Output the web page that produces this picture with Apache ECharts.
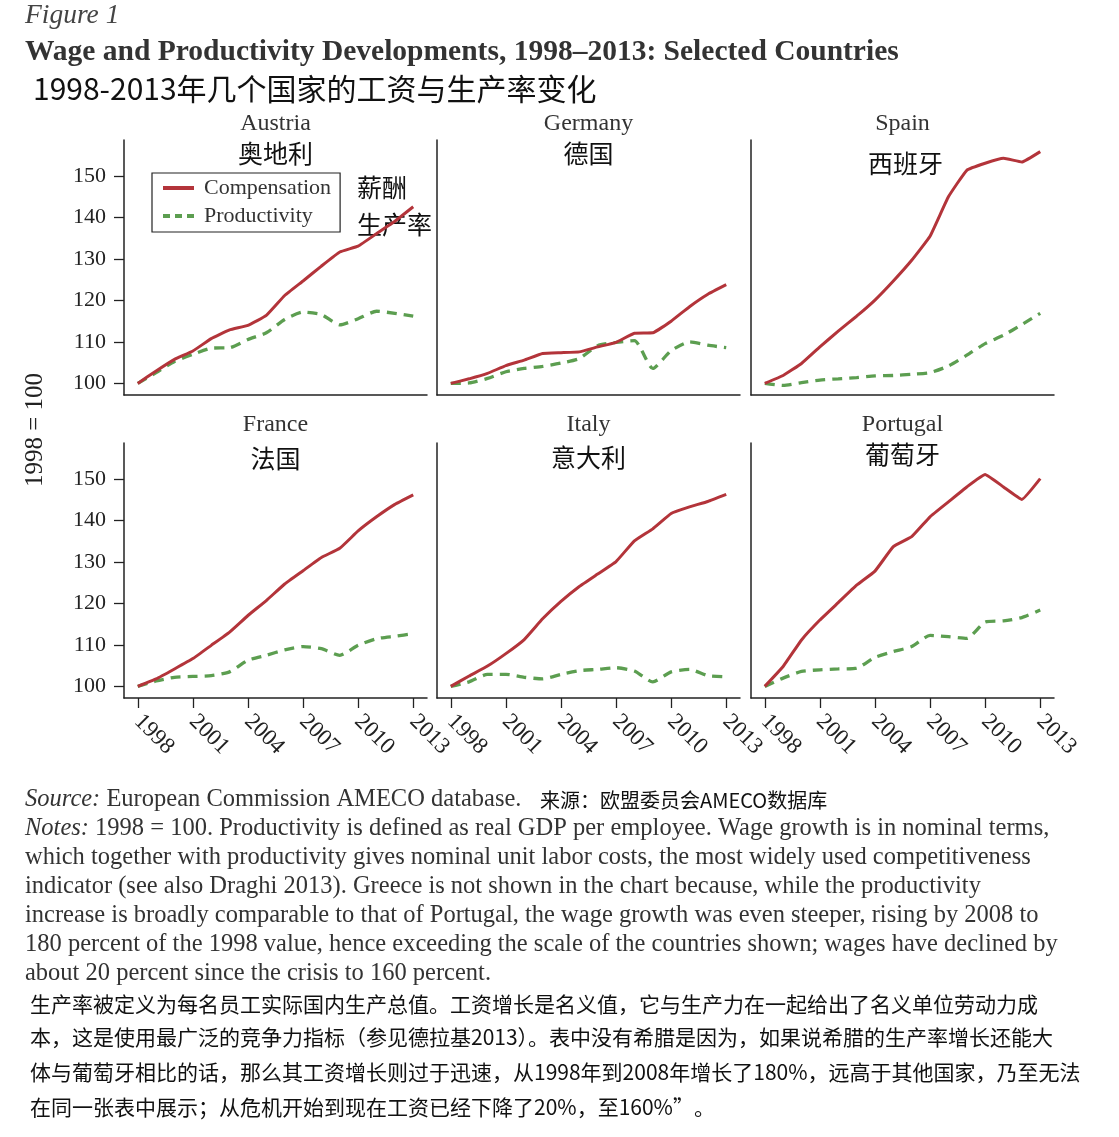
<!DOCTYPE html>
<html><head><meta charset="utf-8">
<script src="https://cdn.jsdelivr.net/npm/echarts@6/dist/echarts.min.js"></script>
<style>html,body{margin:0;padding:0;background:#fff}#c{width:1119px;height:1137px}</style>
</head><body><div id="c"></div>
<script>
const years = [1998,1999,2000,2001,2002,2003,2004,2005,2006,2007,2008,2009,2010,2011,2012,2013];
const xTickYears = [1998,2001,2004,2007,2010,2013];
const yTicks = [100,110,120,130,140,150];
const countriesEn = ['Austria','Germany','Spain','France','Italy','Portugal'];
const countriesZh = ['奥地利','德国','西班牙','法国','意大利','葡萄牙'];
const seriesNames = ['Compensation','Productivity'];

const austriaComp  = [100,103.0,105.8,107.8,110.8,112.9,114.0,116.4,121.2,124.7,128.3,131.7,133.1,136.1,139.1,142.6];
const austriaProd  = [100,102.6,105.3,107.0,108.5,108.6,110.6,112.2,115.4,117.2,116.6,114.1,115.6,117.4,116.9,116.2];
const germanyComp  = [100,101.1,102.4,104.3,105.6,107.2,107.4,107.6,108.8,109.9,112.1,112.2,115.0,118.5,121.5,123.8];
const germanyProd  = [100,100.1,101.2,102.8,103.6,104.1,104.9,106.0,109.1,109.9,110.3,103.6,107.9,110.0,109.2,108.6];
const spainComp    = [100,101.9,104.8,108.8,112.6,116.2,120.1,124.7,129.7,135.5,145.0,151.4,153.1,154.3,153.4,155.9];
const spainProd    = [100,99.5,100.2,100.8,101.1,101.4,101.8,101.9,102.2,102.6,104.2,106.8,109.6,111.6,114.2,116.9];
const franceComp   = [100,101.8,104.2,106.7,109.9,113.1,117.1,120.7,124.7,127.9,131.1,133.3,137.5,140.9,143.9,146.2];
const franceProd   = [100,101.3,102.2,102.4,102.6,103.5,106.3,107.5,108.8,109.6,109.1,107.5,109.9,111.5,112.1,112.7];
const italyComp    = [100,102.5,104.9,107.9,111.3,116.3,120.5,124.1,127.1,130.1,135.1,138.0,141.7,143.3,144.6,146.3];
const italyProd    = [100,101.1,102.9,102.9,102.2,101.8,102.9,103.8,104.1,104.5,103.7,101.1,103.5,104.1,102.6,102.3];
const portugalComp = [100,104.8,111.2,116.0,120.2,124.4,127.8,133.7,136.1,140.9,144.5,148.1,151.1,148.1,145.1,150.1];
const portugalProd = [100,102.0,103.6,104.0,104.2,104.4,107.0,108.4,109.6,112.3,112.0,111.6,115.5,115.8,116.6,118.4];

const compData = [austriaComp, germanyComp, spainComp, franceComp, italyComp, portugalComp];
const prodData = [austriaProd, germanyProd, spainProd, franceProd, italyProd, portugalProd];

const notesLines = [
  '{i|Notes:} 1998 = 100. Productivity is defined as real GDP per employee. Wage growth is in nominal terms,',
  'which together with productivity gives nominal unit labor costs, the most widely used competitiveness',
  'indicator (see also Draghi 2013). Greece is not shown in the chart because, while the productivity',
  'increase is broadly comparable to that of Portugal, the wage growth was even steeper, rising by 2008 to',
  '180 percent of the 1998 value, hence exceeding the scale of the countries shown; wages have declined by',
  'about 20 percent since the crisis to 160 percent.'
];
const zhLines = [
  '生产率被定义为每名员工实际国内生产总值。工资增长是名义值，它与生产力在一起给出了名义单位劳动力成',
  '本，这是使用最广泛的竞争力指标（参见德拉基2013）。表中没有希腊是因为，如果说希腊的生产率增长还能大',
  '体与葡萄牙相比的话，那么其工资增长则过于迅速，从1998年到2008年增长了180%，远高于其他国家，乃至无法',
  '在同一张表中展示；从危机开始到现在工资已经下降了20%，至160%”。'
];

const SERIF = "'Liberation Serif','DejaVu Serif',serif";
const CJK = "'Noto Sans CJK SC','Noto Sans CJK JP',sans-serif";
const RED = '#b3343a';
const GREEN = '#5c9e50';

const panels = [
  {left:124, top:140}, {left:437, top:140}, {left:751, top:140},
  {left:124, top:443}, {left:437, top:443}, {left:751, top:443}
];
const PW = 303, PH = 255;

const grid = [], xAxis = [], yAxis = [], series = [], graphic = [];
panels.forEach((p, i) => {
  const isLeft = (i % 3 === 0);
  const isBottom = i >= 3;
  grid.push({left: p.left, top: p.top, width: PW, height: PH, containLabel: false});
  xAxis.push({
    type: 'value', gridIndex: i, min: 1997.25, max: 2013.75,
    axisLine: {show: true, onZero: false, lineStyle: {color: '#222', width: 1.5}},
    axisTick: {show: isBottom, length: 10, lineStyle: {color: '#222', width: 1.3}, customValues: xTickYears},
    axisLabel: {show: isBottom, rotate: -45, margin: 20, customValues: xTickYears,
      color: '#222', fontFamily: SERIF, fontSize: 23, formatter: v => String(v)},
    splitLine: {show: false}
  });
  yAxis.push({
    type: 'value', gridIndex: i, min: 97.2, max: 158.7,
    axisLine: {show: true, onZero: false, lineStyle: {color: '#222', width: 1.5}},
    axisTick: {show: isLeft, length: 10, lineStyle: {color: '#222', width: 1.3}, customValues: yTicks},
    axisLabel: {show: isLeft, margin: 18, customValues: yTicks, color: '#222', fontFamily: SERIF, fontSize: 22},
    splitLine: {show: false}
  });
  series.push({
    name: seriesNames[0], type: 'line', xAxisIndex: i, yAxisIndex: i,
    data: years.map((y, k) => [y, compData[i][k]]),
    symbol: 'none', smooth: 0.1, lineStyle: {color: RED, width: 3}, itemStyle: {color: RED},
    z: 3, silent: true
  });
  series.push({
    name: seriesNames[1], type: 'line', xAxisIndex: i, yAxisIndex: i,
    data: years.map((y, k) => [y, prodData[i][k]]),
    symbol: 'none', smooth: 0.2, lineStyle: {color: GREEN, width: 3.3, type: [10, 7]}, itemStyle: {color: GREEN},
    z: 2, silent: true
  });
  const cx = p.left + PW / 2;
  const enY = isBottom ? 425 : 124;
  const zhY = [153, 153, 163, 458, 457, 454][i];
  graphic.push({type: 'text', x: cx, y: enY, style: {text: countriesEn[i], font: '24px ' + SERIF, fill: '#333', align: 'center', verticalAlign: 'middle', textAlign: 'center', textVerticalAlign: 'middle'}});
  graphic.push({type: 'text', x: cx + (i === 2 ? 3 : 0), y: zhY, style: {text: countriesZh[i], font: '25px ' + CJK, fill: '#111', align: 'center', verticalAlign: 'middle', textAlign: 'center', textVerticalAlign: 'middle'}});
});

function txt(x, y, text, font, fill, extra) {
  return Object.assign({type: 'text', x: x, y: y, style: Object.assign({text: text, font: font, fill: fill || '#222', align: 'left', verticalAlign: 'middle', textAlign: 'left', textVerticalAlign: 'middle'}, extra || {})});
}

graphic.push(txt(25, 16, 'Figure 1', 'italic 27.5px ' + SERIF, '#444'));
graphic.push(txt(25, 52, 'Wage and Productivity Developments, 1998–2013: Selected Countries', 'bold 29.5px ' + SERIF, '#333'));
graphic.push(txt(33, 89, '1998-2013年几个国家的工资与生产率变化', '30px ' + CJK, '#111'));
graphic.push({type: 'text', x: 35, y: 430, rotation: Math.PI / 2,
  style: {text: '1998 = 100', font: '25px ' + SERIF, fill: '#222', align: 'center', verticalAlign: 'middle', textAlign: 'center', textVerticalAlign: 'middle'}});
graphic.push(txt(357, 187, '薪酬', '25px ' + CJK, '#111'));
graphic.push(txt(357, 224, '生产率', '25px ' + CJK, '#111'));

graphic.push(txt(25, 800, '{i|Source:} European Commission AMECO database.', '24.5px ' + SERIF, '#333',
  {rich: {i: {font: 'italic 24.5px ' + SERIF, fill: '#333'}}}));
graphic.push(txt(540, 800, '来源：欧盟委员会AMECO数据库', '20px ' + CJK, '#111'));
notesLines.forEach((line, k) => {
  graphic.push(txt(25, 829 + k * 29, line, '24.5px ' + SERIF, '#333',
    {rich: {i: {font: 'italic 24.5px ' + SERIF, fill: '#333'}}}));
});
const zhYs = [1004, 1037, 1072, 1107];
zhLines.forEach((line, k) => {
  graphic.push(txt(30, zhYs[k], line, '21px ' + CJK, '#111'));
});

const option = {
  backgroundColor: '#fff',
  animation: false,
  legend: {
    data: [
      {name: seriesNames[0], icon: 'path://M0,0H31V4H0Z'},
      {name: seriesNames[1], icon: 'path://M0,0H7V4H0Z M12,0H19V4H12Z M24,0H31V4H24Z'}
    ],
    orient: 'vertical', left: 152, top: 173,
    itemWidth: 31, itemHeight: 14, itemGap: 6,
    padding: [4, 9, 5, 11],
    borderColor: '#222', borderWidth: 1.2, borderRadius: 0,
    backgroundColor: '#fff',
    textStyle: {fontFamily: SERIF, fontSize: 22, color: '#333', padding: [0, 0, 0, 5]},
    selectedMode: false
  },
  grid, xAxis, yAxis, series, graphic
};
const chart = echarts.init(document.getElementById('c'), null, {renderer: 'canvas'});
chart.setOption(option);
</script></body></html>
